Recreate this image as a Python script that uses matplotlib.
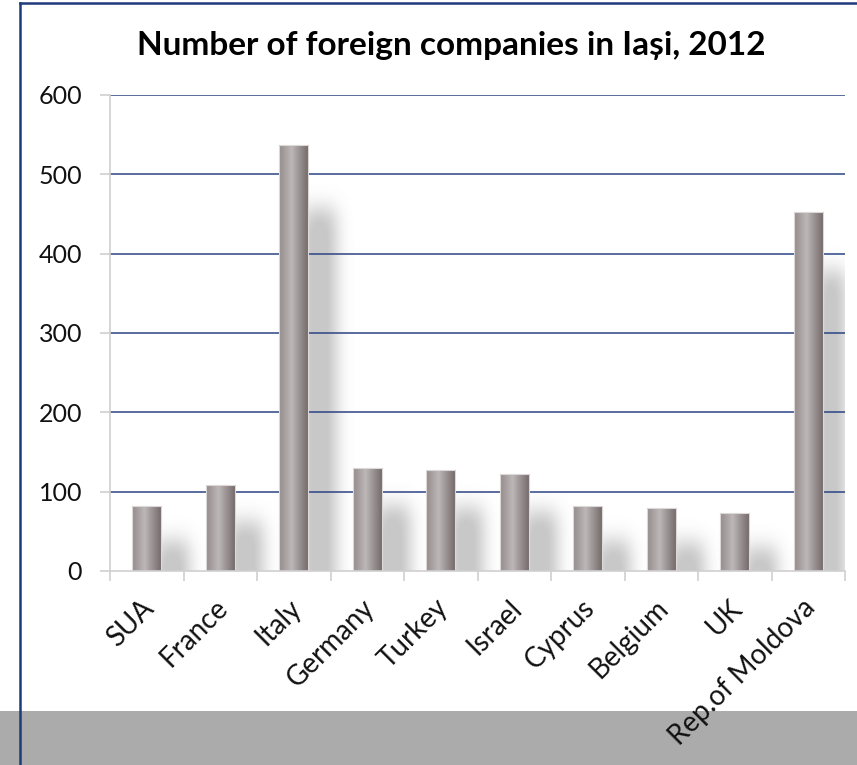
import numpy as np
import matplotlib
matplotlib.use("Agg")
import matplotlib.pyplot as plt
from matplotlib.patches import Rectangle
from matplotlib.lines import Line2D
from matplotlib.colors import LinearSegmentedColormap
from matplotlib.transforms import ScaledTranslation

categories = ["SUA", "France", "Italy", "Germany", "Turkey", "Israel",
              "Cyprus", "Belgium", "UK", "Rep.of Moldova"]
values = [82, 108, 537, 130, 127, 122, 82, 80, 73, 452]
yticks = [0, 100, 200, 300, 400, 500, 600]
title = "Number of foreign companies in Iași, 2012"

plt.rcParams['font.family'] = ['Lato', 'DejaVu Sans']

W, H, DPI = 857, 765, 100
fig = plt.figure(figsize=(W / DPI, H / DPI), dpi=DPI)
fig.patch.set_facecolor("white")

L, R, B, T = 110 / W, 845 / W, 1 - 571 / H, 1 - 95 / H
ax = fig.add_axes([L, B, R - L, T - B])
ax.set_facecolor("none")

n = len(categories)
ax.set_xlim(-0.5, n - 0.5)
ax.set_ylim(0, 600)

# gridlines
for yv in yticks[1:]:
    ax.axhline(yv, color="#2B4483", lw=1.1, zorder=2.5)

# shadow image (blurred, offset)
ax_w = int(round((R - L) * W))
ax_h = int(round((T - B) * H))
img = np.zeros((ax_h, ax_w))
xs = (np.arange(ax_w) + 0.5) / ax_w * n - 0.5
ys = (1 - (np.arange(ax_h) + 0.5) / ax_h) * 600
for i, v in enumerate(values):
    x0, x1 = i + 0.12, i + 0.58
    top = 0.92 * v - 38
    mx = (xs >= x0) & (xs <= x1)
    my = (ys <= top)
    img[np.ix_(my, mx)] = 1.0

def blur(a, sigma, axis):
    r = int(3 * sigma)
    k = np.exp(-0.5 * (np.arange(-r, r + 1) / sigma) ** 2)
    k /= k.sum()
    pad = [(0, 0), (0, 0)]
    pad[axis] = (r, r)
    ap = np.pad(a, pad, mode="edge" if axis == 0 else "constant")
    return np.apply_along_axis(lambda m: np.convolve(m, k, mode="valid"), axis, ap)

img = blur(img, 8, 1)
img = blur(img, 11, 0)
rgba = np.zeros((ax_h, ax_w, 4))
rgba[..., :3] = 0.42
rgba[..., 3] = np.clip(img * 1.15, 0, 1) * 0.37
ax.imshow(rgba, extent=[-0.5, n - 0.5, 0, 600], aspect="auto",
          origin="upper", zorder=2, interpolation="bilinear")

# bars with metallic gradient
cmap = LinearSegmentedColormap.from_list(
    "metal", [(0, "#958c8c"), (0.42, "#bdb7b7"), (1.0, "#726868")])
grad = np.linspace(0, 1, 64)[None, :]
bw = 0.4
bars = ax.bar(range(n), values, width=bw, color="none",
              edgecolor="#dcd8d8", linewidth=0.8, zorder=4)
for i, (b, v) in enumerate(zip(bars, values)):
    im = ax.imshow(grad, cmap=cmap, extent=[i - bw / 2, i + bw / 2, 0, v],
                   aspect="auto", zorder=3, interpolation="bilinear")
    im.set_clip_path(b)

ax.set_xlim(-0.5, n - 0.5)
ax.set_ylim(0, 600)

# axes styling
for s in ["top", "right"]:
    ax.spines[s].set_visible(False)
for s in ["left", "bottom"]:
    ax.spines[s].set_color("#d0d0d0")
    ax.spines[s].set_linewidth(1.2)
    ax.spines[s].set_zorder(5)

ax.set_yticks(yticks)
ax.set_yticklabels([str(t) for t in yticks], fontsize=18, color="#111111")
ax.tick_params(axis="y", length=7, width=1.2, color="#d0d0d0", pad=13)

ax.set_xticks(range(n))
ax.set_xticklabels(categories, fontsize=20, rotation=45, ha="right",
                   va="top", rotation_mode="anchor", color="#111111")
ax.tick_params(axis="x", length=0, pad=17)
ax.set_xticks(np.arange(-0.5, n, 1.0), minor=True)
ax.tick_params(axis="x", which="minor", length=7, width=1.2, color="#d0d0d0")
shift = ScaledTranslation(-6 / DPI, 0, fig.dpi_scale_trans)
for lbl in ax.get_xticklabels():
    lbl.set_transform(lbl.get_transform() + shift)

fig.text(451 / W, 1 - 45 / H, title, ha="center", va="center",
         fontsize=24, fontweight="bold", color="#000000")

# gray band at bottom
fig.patches.append(Rectangle((0, 0), 1, (H - 711) / H, transform=fig.transFigure,
                             facecolor="#ababab", edgecolor="none", zorder=-1))
# blue frame
fig.lines.append(Line2D([20 / W, 20 / W], [0, 1 - 3 / H], transform=fig.transFigure,
                        color="#1f3a7a", lw=1.8, zorder=10))
fig.lines.append(Line2D([20 / W, 1], [1 - 3 / H, 1 - 3 / H], transform=fig.transFigure,
                        color="#1f3a7a", lw=1.8, zorder=10))

fig.savefig("out.png", dpi=DPI)
